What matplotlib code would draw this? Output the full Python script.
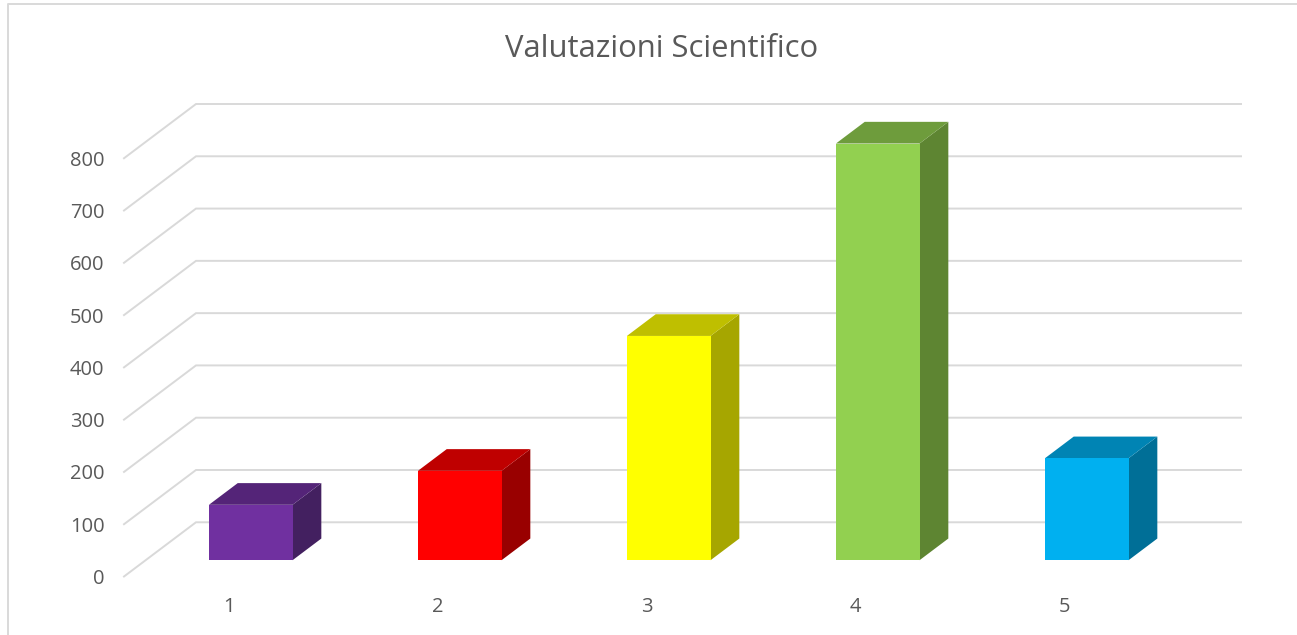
import matplotlib
matplotlib.use("Agg")
import matplotlib.pyplot as plt
from matplotlib.lines import Line2D

# Values
categories = [1, 2, 3, 4, 5]
values = [106, 171, 429, 797, 195]
y_ticks = [0, 100, 200, 300, 400, 500, 600, 700, 800]

front_colors = ["#7030A0", "#FF0000", "#FFFF00", "#92D050", "#00B0F0"]
top_colors = ["#542478", "#BF0000", "#BFBF00", "#6E9C3C", "#0084B4"]
side_colors = ["#432060", "#990000", "#A6A600", "#5E8532", "#006F97"]

W, H = 1297, 635
GRID = "#D9D9D9"
TEXT = "#595959"

plt.rcParams['font.family'] = ['Open Sans', 'DejaVu Sans']

fig = plt.figure(figsize=(W / 100, H / 100), dpi=100)

# axes spans the front left corner to the back right corner of the 3d box
left, right, bottom, top = 124, 1241, 576.5, 104
ax = fig.add_axes([left / W, 1 - bottom / H, (right - left) / W, (bottom - top) / H])

# oblique projection: depth goes 0 (front) to 1 (back wall)
unit_x = (right - left - 72) / 5
unit_y = 52.25 / 100
depth_x = 72 / unit_x
depth_y = 54.2 / unit_y
bar_w = 0.4
bar_shift = 0.003


def proj(x, v, d):
    return x + d * depth_x, v + d * depth_y


ax.set_xlim(0.5, 5.5 + depth_x)
ax.set_ylim(0, 800 + depth_y)
for s in ax.spines.values():
    s.set_visible(False)
ax.patch.set_visible(False)

ax.set_xticks(categories)
ax.set_yticks(y_ticks)
ax.tick_params(axis='both', length=0, labelsize=14.5, labelcolor=TEXT)
ax.tick_params(axis='y', pad=14)
ax.tick_params(axis='x', pad=15)

for v in y_ticks:
    pts = [proj(0.5, v, 0), proj(0.5, v, 1), proj(5.5, v, 1)]
    ax.plot([p[0] for p in pts], [p[1] for p in pts], color=GRID, lw=1.4,
            zorder=1, clip_on=False, solid_joinstyle='miter')

for i, x in enumerate(categories):
    v = values[i]
    x0, x1 = x + bar_shift - bar_w / 2, x + bar_shift + bar_w / 2
    d0, d1 = 0.3, 0.7
    front = [proj(x0, 0, d0), proj(x1, 0, d0), proj(x1, v, d0), proj(x0, v, d0)]
    side = [proj(x1, 0, d0), proj(x1, 0, d1), proj(x1, v, d1), proj(x1, v, d0)]
    roof = [proj(x0, v, d0), proj(x1, v, d0), proj(x1, v, d1), proj(x0, v, d1)]
    ax.fill(*zip(*side), color=side_colors[i], lw=0, zorder=2)
    ax.fill(*zip(*roof), color=top_colors[i], lw=0, zorder=2)
    ax.fill(*zip(*front), color=front_colors[i], lw=0, zorder=3)

fig.text(662 / W, 1 - 49 / H, "Valutazioni Scientifico", fontsize=22.3, color=TEXT,
         ha='center', va='center')

# chart area border, cut off by the screenshot at right and bottom
fig.add_artist(Line2D([8 / W, 8 / W, 1], [0, 1 - 4 / H, 1 - 4 / H], color=GRID, lw=1.4))

fig.savefig("out.png", dpi=100)
